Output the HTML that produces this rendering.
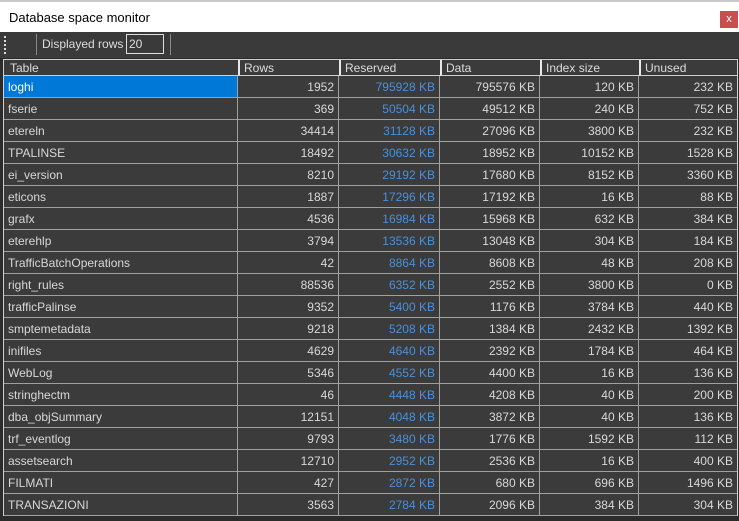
<!DOCTYPE html><html><head><style>
body{margin:0;width:739px;height:521px;background:#2b2b2b;font-family:"Liberation Sans",sans-serif;position:relative;overflow:hidden}
.t{position:absolute;left:0;top:0;width:739px;height:32px;background:#fff;border-top:2px solid #c8c8c8;box-sizing:border-box}
.t span{position:absolute;left:9px;top:8px;font-size:13px;color:#000}
.x{position:absolute;left:720px;top:9px;width:18px;height:17px;background:#c94f4f;color:#fff;font-size:11px;text-align:center;line-height:16px}
.tb{position:absolute;left:0;top:32px;width:739px;height:26px;background:#3a3a3a}
.g{position:absolute;left:3px;top:59px;width:735px;height:457px;background:#3b3b3b;border:1px solid #cfcfcf;box-sizing:border-box}
.c{position:absolute;font-size:12px;color:#d8d8d8;height:22px;line-height:22px;white-space:nowrap;box-sizing:border-box;padding:0 4px;border-right:1px solid #a0a0a0;border-bottom:1px solid #a0a0a0}
.r{text-align:right}
.b{color:#4a90d9}
.h{position:absolute;font-size:12px;color:#dcdcdc;top:60px;height:16px;line-height:16px;border-left:2px solid #e8e8e8;padding-left:4px;box-sizing:border-box;border-bottom:1px solid #cfcfcf}
</style></head><body>
<div class="t"><span>Database space monitor</span><div class="x">x</div></div>
<div class="tb">
<div style="position:absolute;left:4px;top:4px;width:2px;height:18px;border-left:2px dotted #ddd"></div>
<div style="position:absolute;left:36px;top:2px;width:1px;height:21px;background:#888"></div>
<span style="position:absolute;left:42px;top:5px;font-size:12px;color:#ddd">Displayed rows</span>
<div style="position:absolute;left:126px;top:2px;width:38px;height:20px;border:1px solid #ddd;box-sizing:border-box;color:#ddd;font-size:12px;padding-left:2px;line-height:18px">20</div>
<div style="position:absolute;left:170px;top:2px;width:1px;height:21px;background:#888"></div>
</div>
<div class="g"></div>
<div id="a"></div>
<script>
(function(){
var cols=[4,238,339,440,540,639,737];
var hd=["Table","Rows","Reserved","Data","Index size","Unused"];
var d=[["loghi",1952,795928,795576,120,232],["fserie",369,50504,49512,240,752],["etereln",34414,31128,27096,3800,232],["TPALINSE",18492,30632,18952,10152,1528],["ei_version",8210,29192,17680,8152,3360],["eticons",1887,17296,17192,16,88],["grafx",4536,16984,15968,632,384],["eterehlp",3794,13536,13048,304,184],["TrafficBatchOperations",42,8864,8608,48,208],["right_rules",88536,6352,2552,3800,0],["trafficPalinse",9352,5400,1176,3784,440],["smptemetadata",9218,5208,1384,2432,1392],["inifiles",4629,4640,2392,1784,464],["WebLog",5346,4552,4400,16,136],["stringhectm",46,4448,4208,40,200],["dba_objSummary",12151,4048,3872,40,136],["trf_eventlog",9793,3480,1776,1592,112],["assetsearch",12710,2952,2536,16,400],["FILMATI",427,2872,680,696,1496],["TRANSAZIONI",3563,2784,2096,384,304]];
var h="";
for(var j=0;j<6;j++){h+='<div class="h" style="left:'+cols[j]+'px;width:'+(cols[j+1]-cols[j])+'px;'+(j==0?'border-left:none;padding-left:6px':'')+'">'+hd[j]+'</div>';}
for(var i=0;i<d.length;i++){var yy=76+22*i;
for(var j=0;j<6;j++){var v=d[i][j];if(j>=2)v=v+" KB";
var cls="c"+(j>0?" r":"")+(j==2?" b":"");var st="left:"+cols[j]+"px;top:"+yy+"px;width:"+(cols[j+1]-cols[j])+"px;";
if(i==0&&j==0)st+="background:#0078d7;color:#fff;";
if(j==5)st+="border-right:none;";
h+='<div class="'+cls+'" style="'+st+'">'+v+'</div>';}}
document.getElementById("a").innerHTML=h;
})();
</script>
</body></html>
